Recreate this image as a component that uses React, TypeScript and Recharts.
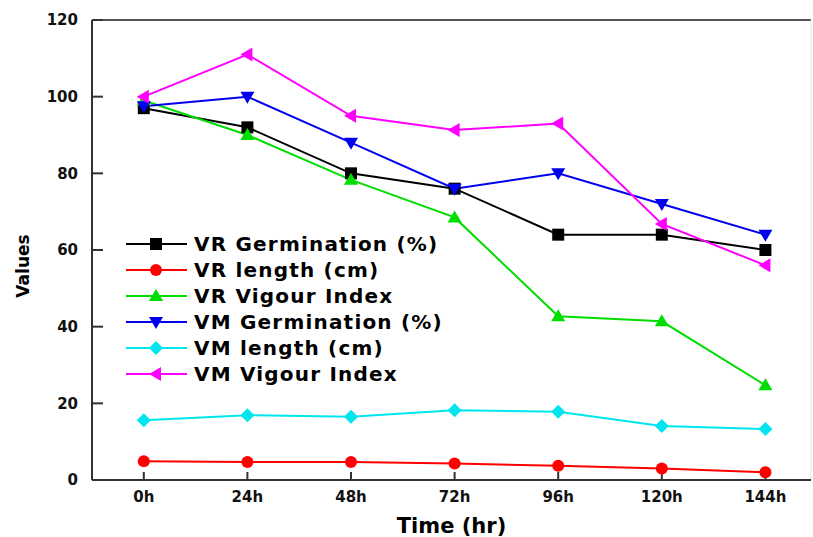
import { Line, LineChart, XAxis, YAxis } from 'recharts'

const TIMES = ['0h', '24h', '48h', '72h', '96h', '120h', '144h']
const VR_GERM = [97, 92, 80, 76, 64, 64, 60]
const VR_LEN = [4.9, 4.7, 4.7, 4.3, 3.7, 3.0, 2.0]
const VR_VIG = [99, 90, 78.3, 68.5, 42.7, 41.4, 24.7]
const VM_GERM = [97.5, 100, 88, 76, 80, 72, 64]
const VM_LEN = [15.6, 16.9, 16.5, 18.2, 17.8, 14.1, 13.3]
const VM_VIG = [100, 111, 95, 91.3, 93, 66.8, 56]
const Y_TICKS = [0, 20, 40, 60, 80, 100, 120]

type Shape = 'square' | 'circle' | 'up' | 'down' | 'diamond' | 'left'

const SERIES: { key: string; name: string; color: string; shape: Shape; values: number[] }[] = [
  { key: 'vrGerm', name: 'VR Germination (%)', color: '#000000', shape: 'square', values: VR_GERM },
  { key: 'vrLen', name: 'VR length (cm)', color: '#ff0000', shape: 'circle', values: VR_LEN },
  { key: 'vrVig', name: 'VR Vigour Index', color: '#00dd00', shape: 'up', values: VR_VIG },
  { key: 'vmGerm', name: 'VM Germination (%)', color: '#0000ee', shape: 'down', values: VM_GERM },
  { key: 'vmLen', name: 'VM length (cm)', color: '#00e5ee', shape: 'diamond', values: VM_LEN },
  { key: 'vmVig', name: 'VM Vigour Index', color: '#ff00ff', shape: 'left', values: VM_VIG },
]

const data = TIMES.map((t, i) => {
  const row: Record<string, number | string> = { x: i, label: t }
  SERIES.forEach((s) => (row[s.key] = s.values[i]))
  return row
})

const FONT = '"DejaVu Sans", Verdana, sans-serif'

function markerPath(shape: Shape, cx: number, cy: number) {
  switch (shape) {
    case 'square':
      return `M${cx - 6},${cy - 6}h12v12h-12z`
    case 'up':
      return `M${cx},${cy - 7}L${cx + 7},${cy + 5}L${cx - 7},${cy + 5}z`
    case 'down':
      return `M${cx},${cy + 7}L${cx + 7},${cy - 5}L${cx - 7},${cy - 5}z`
    case 'left':
      return `M${cx - 7},${cy}L${cx + 5},${cy - 7}L${cx + 5},${cy + 7}z`
    case 'diamond':
      return `M${cx},${cy - 7}L${cx + 7},${cy}L${cx},${cy + 7}L${cx - 7},${cy}z`
    default:
      return ''
  }
}

function Marker({ shape, color, cx, cy }: { shape: Shape; color: string; cx: number; cy: number }) {
  if (shape === 'circle') return <circle cx={cx} cy={cy} r={6} fill={color} />
  return <path d={markerPath(shape, cx, cy)} fill={color} />
}

function LegendBox() {
  return (
    <div
      style={{
        position: 'absolute',
        left: 125,
        top: 231,
        fontFamily: FONT,
        fontWeight: 'bold',
        fontSize: 20,
        letterSpacing: 1.2,
        lineHeight: '26px',
      }}
    >
      {SERIES.map((s) => (
        <div key={s.key} style={{ display: 'flex', alignItems: 'center', height: 26 }}>
          <svg width={64} height={26} style={{ display: 'block' }}>
            <line x1={1} x2={62} y1={13} y2={13} stroke={s.color} strokeWidth={2} />
            <Marker shape={s.shape} color={s.color} cx={31} cy={13} />
          </svg>
          <span style={{ marginLeft: 5, color: '#000', whiteSpace: 'nowrap' }}>{s.name}</span>
        </div>
      ))}
    </div>
  )
}

export default function App() {
  return (
    <div style={{ position: 'absolute', left: 0, top: 0, width: 813, height: 537, background: '#fff' }}>
      <LineChart width={813} height={537} data={data} margin={{ top: 19, right: 1, bottom: 0, left: 0 }}>
        <XAxis
          xAxisId="top"
          orientation="top"
          dataKey="x"
          type="number"
          domain={[-0.5, 6.44]}
          height={1}
          tick={false}
          tickLine={false}
          stroke="#555"
          strokeWidth={2}
        />
        <YAxis
          yAxisId="right"
          orientation="right"
          domain={[0, 120]}
          width={1}
          tick={false}
          tickLine={false}
          stroke="#e8e8e8"
          strokeWidth={1}
        />
        <XAxis
          dataKey="x"
          type="number"
          domain={[-0.5, 6.44]}
          ticks={[0, 1, 2, 3, 4, 5, 6]}
          tickFormatter={(v: number) => TIMES[v]}
          height={57}
          tickSize={-8}
          tickMargin={19}
          stroke="#333"
          strokeWidth={2}
          tick={{ fill: '#111', fontFamily: FONT, fontWeight: 'bold', fontSize: 15 }}
          label={{
            value: 'Time (hr)',
            position: 'insideBottom',
            offset: 4,
            fill: '#000',
            fontFamily: FONT,
            fontWeight: 'bold',
            fontSize: 21,
          }}
        />
        <YAxis
          domain={[0, 120]}
          ticks={Y_TICKS}
          width={92}
          tickSize={-11}
          tickMargin={25}
          stroke="#333"
          strokeWidth={2}
          tick={{ fill: '#111', fontFamily: FONT, fontWeight: 'bold', fontSize: 15 }}
          label={{
            content: () => (
              <text
                x={23}
                y={266}
                transform="rotate(-90 23 266)"
                textAnchor="middle"
                dominantBaseline="central"
                fill="#000"
                fontFamily={FONT}
                fontWeight="bold"
                fontSize={17}
              >
                Values
              </text>
            ),
          }}
        />
        {SERIES.map((s) => (
          <Line
            key={s.key}
            dataKey={s.key}
            name={s.name}
            stroke={s.color}
            strokeWidth={2}
            isAnimationActive={false}
            dot={(p: any) => (
              <Marker key={`${s.key}-${p.index}`} shape={s.shape} color={s.color} cx={p.cx} cy={p.cy} />
            )}
            activeDot={false}
          />
        ))}
      </LineChart>
      <LegendBox />
    </div>
  )
}
